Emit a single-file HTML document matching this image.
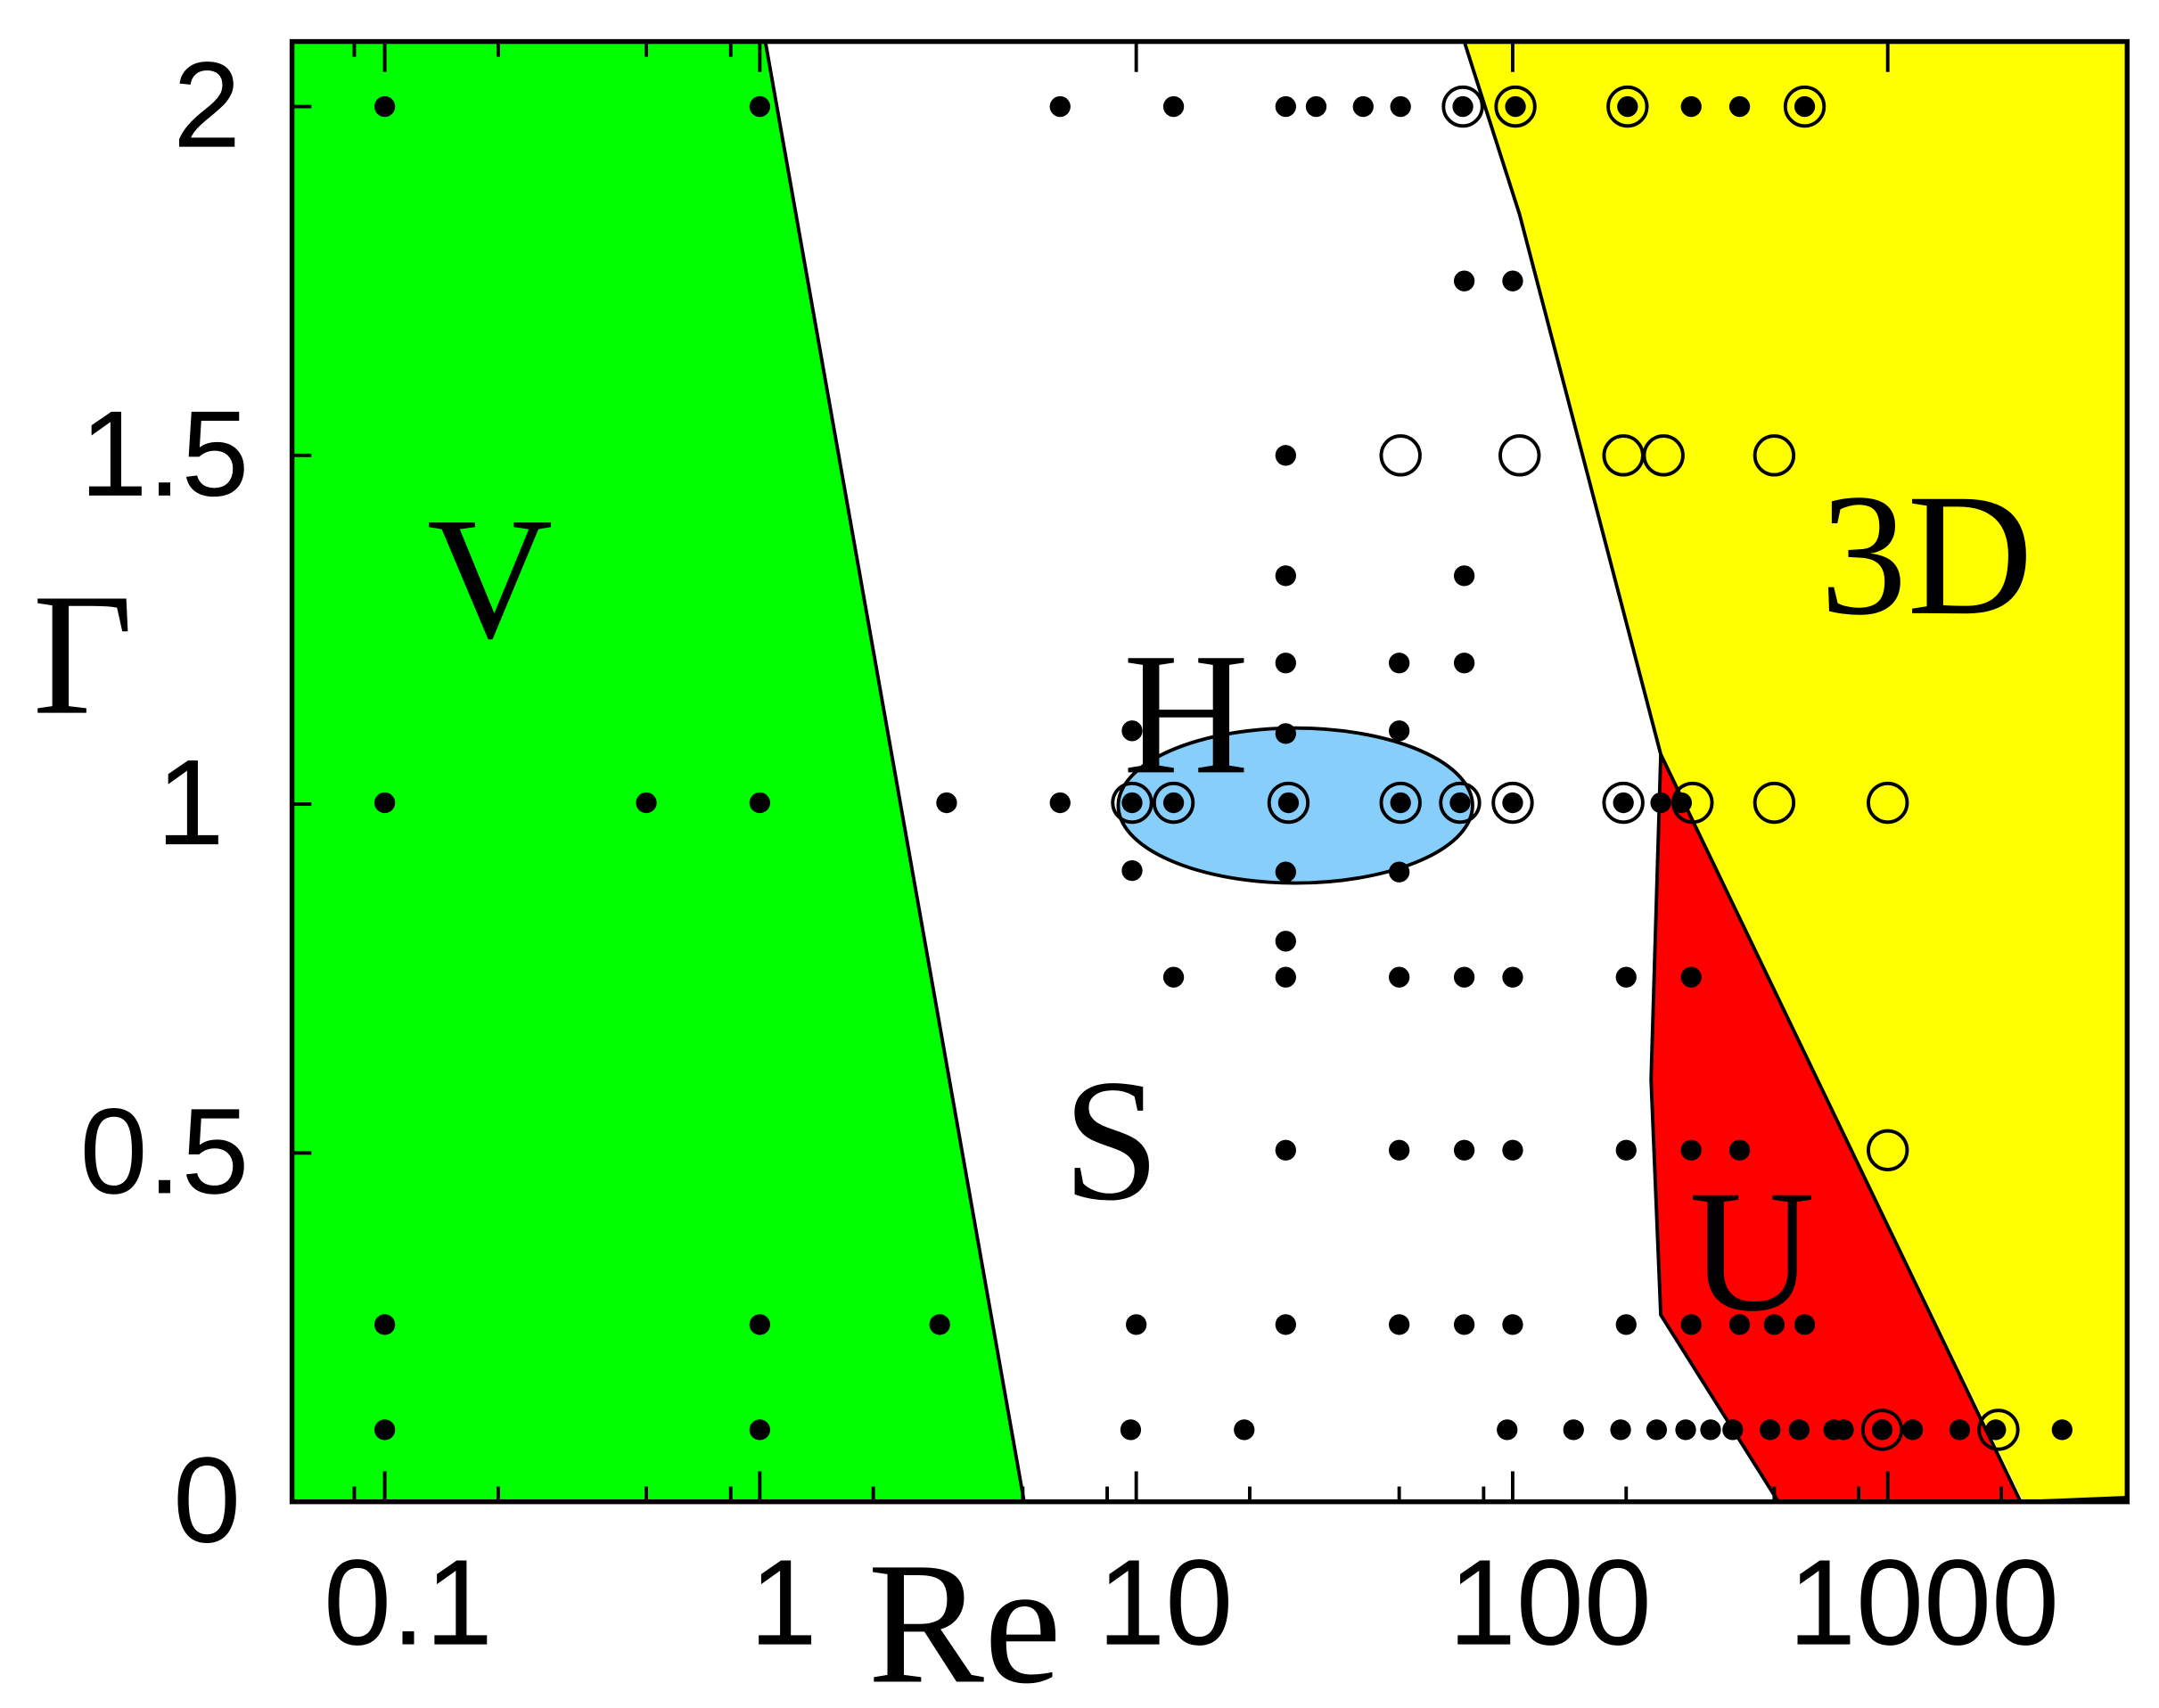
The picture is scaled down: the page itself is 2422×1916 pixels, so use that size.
<!DOCTYPE html>
<html><head><meta charset="utf-8"><style>html,body{margin:0;padding:0;background:#fff}svg{display:block}</style></head>
<body>
<svg width="2422" height="1916" viewBox="0 0 1560 1234" preserveAspectRatio="none" xmlns="http://www.w3.org/2000/svg">
<rect width="1560" height="1234" fill="#fff"/>
<polygon points="211,30 553,30 740,1085 211,1085" fill="#00ff00"/>
<polyline points="553,30 740,1085" fill="none" stroke="#000" stroke-width="2.5"/>
<polygon points="1058,30 1537,30 1537,1082 1462,1085 1200,545 1098,155" fill="#ffff00"/>
<polyline points="1058,30 1098,155 1200,545" fill="none" stroke="#000" stroke-width="2.5"/>
<polygon points="1200,545 1460,1085 1285,1085 1200,950 1193,780" fill="#ff0000" stroke="#000" stroke-width="2.5"/>
<line x1="1462" y1="1085" x2="1537" y2="1082" stroke="#000" stroke-width="2.5"/>
<ellipse cx="936" cy="582" rx="128" ry="56" fill="#87cefa" stroke="#000" stroke-width="2.5"/>
<rect x="211" y="30" width="1326" height="1055" fill="none" stroke="#000" stroke-width="3.5"/>
<g stroke="#000" stroke-width="2.5">
<line x1="211" y1="77" x2="225" y2="77"/><line x1="211" y1="329" x2="225" y2="329"/><line x1="211" y1="581" x2="225" y2="581"/><line x1="211" y1="833" x2="225" y2="833"/>
<line x1="278" y1="1085" x2="278" y2="1063"/><line x1="549" y1="1085" x2="549" y2="1063"/><line x1="821" y1="1085" x2="821" y2="1063"/><line x1="1093" y1="1085" x2="1093" y2="1063"/><line x1="1364" y1="1085" x2="1364" y2="1063"/>
<line x1="278" y1="30" x2="278" y2="52"/><line x1="549" y1="30" x2="549" y2="52"/><line x1="821" y1="30" x2="821" y2="52"/><line x1="1093" y1="30" x2="1093" y2="52"/><line x1="1364" y1="30" x2="1364" y2="52"/>
<line x1="256" y1="1085" x2="256" y2="1074"/><line x1="360" y1="1085" x2="360" y2="1074"/><line x1="467" y1="1085" x2="467" y2="1074"/><line x1="528" y1="1085" x2="528" y2="1074"/>
<line x1="631" y1="1085" x2="631" y2="1074"/><line x1="739" y1="1085" x2="739" y2="1074"/><line x1="800" y1="1085" x2="800" y2="1074"/>
<line x1="903" y1="1085" x2="903" y2="1074"/><line x1="1011" y1="1085" x2="1011" y2="1074"/><line x1="1072" y1="1085" x2="1072" y2="1074"/>
<line x1="1175" y1="1085" x2="1175" y2="1074"/><line x1="1282" y1="1085" x2="1282" y2="1074"/><line x1="1343" y1="1085" x2="1343" y2="1074"/>
<line x1="1446" y1="1085" x2="1446" y2="1074"/>
<line x1="256" y1="30" x2="256" y2="41"/><line x1="360" y1="30" x2="360" y2="41"/><line x1="467" y1="30" x2="467" y2="41"/><line x1="528" y1="30" x2="528" y2="41"/>
</g>
<g fill="#000">
<circle cx="278" cy="77" r="7.5"/><circle cx="549" cy="77" r="7.5"/><circle cx="766" cy="77" r="7.5"/><circle cx="848" cy="77" r="7.5"/><circle cx="929" cy="77" r="7.5"/><circle cx="951" cy="77" r="7.5"/><circle cx="985" cy="77" r="7.5"/><circle cx="1012" cy="77" r="7.5"/><circle cx="1057" cy="77" r="7.5"/><circle cx="1095" cy="77" r="7.5"/><circle cx="1176" cy="77" r="7.5"/><circle cx="1222" cy="77" r="7.5"/><circle cx="1257" cy="77" r="7.5"/><circle cx="1304" cy="77" r="7.5"/>
<circle cx="1058" cy="203" r="7.5"/><circle cx="1093" cy="203" r="7.5"/>
<circle cx="929" cy="329" r="7.5"/>
<circle cx="929" cy="416" r="7.5"/><circle cx="1058" cy="416" r="7.5"/>
<circle cx="929" cy="479" r="7.5"/><circle cx="1011" cy="479" r="7.5"/><circle cx="1058" cy="479" r="7.5"/>
<circle cx="818" cy="528" r="7.5"/><circle cx="929" cy="530" r="7.5"/><circle cx="1011" cy="528" r="7.5"/>
<circle cx="278" cy="580" r="7.5"/><circle cx="467" cy="580" r="7.5"/><circle cx="549" cy="580" r="7.5"/><circle cx="684" cy="580" r="7.5"/><circle cx="766" cy="580" r="7.5"/><circle cx="818" cy="580" r="7.5"/><circle cx="848" cy="580" r="7.5"/><circle cx="931" cy="580" r="7.5"/><circle cx="1012" cy="580" r="7.5"/><circle cx="1055" cy="580" r="7.5"/><circle cx="1093" cy="580" r="7.5"/><circle cx="1173" cy="580" r="7.5"/><circle cx="1200" cy="580" r="7.5"/><circle cx="1215" cy="580" r="7.5"/>
<circle cx="818" cy="629" r="7.5"/><circle cx="929" cy="630" r="7.5"/><circle cx="1011" cy="630" r="7.5"/>
<circle cx="929" cy="680" r="7.5"/>
<circle cx="848" cy="706" r="7.5"/><circle cx="929" cy="706" r="7.5"/><circle cx="1011" cy="706" r="7.5"/><circle cx="1058" cy="706" r="7.5"/><circle cx="1093" cy="706" r="7.5"/><circle cx="1175" cy="706" r="7.5"/><circle cx="1222" cy="706" r="7.5"/>
<circle cx="929" cy="831" r="7.5"/><circle cx="1011" cy="831" r="7.5"/><circle cx="1058" cy="831" r="7.5"/><circle cx="1093" cy="831" r="7.5"/><circle cx="1175" cy="831" r="7.5"/><circle cx="1222" cy="831" r="7.5"/><circle cx="1257" cy="831" r="7.5"/>
<circle cx="278" cy="957" r="7.5"/><circle cx="549" cy="957" r="7.5"/><circle cx="679" cy="957" r="7.5"/><circle cx="821" cy="957" r="7.5"/><circle cx="929" cy="957" r="7.5"/><circle cx="1011" cy="957" r="7.5"/><circle cx="1058" cy="957" r="7.5"/><circle cx="1093" cy="957" r="7.5"/><circle cx="1175" cy="957" r="7.5"/><circle cx="1222" cy="957" r="7.5"/><circle cx="1257" cy="957" r="7.5"/><circle cx="1282" cy="957" r="7.5"/><circle cx="1304" cy="957" r="7.5"/>
<circle cx="278" cy="1033" r="7.5"/><circle cx="549" cy="1033" r="7.5"/><circle cx="817" cy="1033" r="7.5"/><circle cx="899" cy="1033" r="7.5"/><circle cx="1089" cy="1033" r="7.5"/><circle cx="1137" cy="1033" r="7.5"/><circle cx="1171" cy="1033" r="7.5"/><circle cx="1197" cy="1033" r="7.5"/><circle cx="1218" cy="1033" r="7.5"/><circle cx="1236" cy="1033" r="7.5"/><circle cx="1252" cy="1033" r="7.5"/><circle cx="1279" cy="1033" r="7.5"/><circle cx="1300" cy="1033" r="7.5"/><circle cx="1325" cy="1033" r="7.5"/><circle cx="1332" cy="1033" r="7.5"/><circle cx="1360" cy="1033" r="7.5"/><circle cx="1382" cy="1033" r="7.5"/><circle cx="1416" cy="1033" r="7.5"/><circle cx="1442" cy="1033" r="7.5"/><circle cx="1490" cy="1033" r="7.5"/>
</g>
<g fill="none" stroke="#000" stroke-width="2.5">
<circle cx="1057" cy="77" r="14"/><circle cx="1095" cy="77" r="14"/><circle cx="1176" cy="77" r="14"/><circle cx="1304" cy="77" r="14"/>
<circle cx="1012" cy="329" r="14"/><circle cx="1098" cy="329" r="14"/><circle cx="1173" cy="329" r="14"/><circle cx="1202" cy="329" r="14"/><circle cx="1282" cy="329" r="14"/>
<circle cx="818" cy="580" r="14"/><circle cx="848" cy="580" r="14"/><circle cx="931" cy="580" r="14"/><circle cx="1012" cy="580" r="14"/><circle cx="1055" cy="580" r="14"/><circle cx="1093" cy="580" r="14"/><circle cx="1173" cy="580" r="14"/><circle cx="1223" cy="580" r="14"/><circle cx="1282" cy="580" r="14"/><circle cx="1364" cy="580" r="14"/>
<circle cx="1364" cy="831" r="14"/>
<circle cx="1360" cy="1033" r="14"/><circle cx="1444" cy="1033" r="14"/>
</g>
<g fill="#000" font-family="'Liberation Sans',sans-serif" font-size="88">
<text x="174" y="106" text-anchor="end">2</text>
<text x="180" y="358" text-anchor="end">1.5</text>
<text x="162" y="610" text-anchor="end">1</text>
<text x="180" y="862" text-anchor="end">0.5</text>
<text x="174" y="1114" text-anchor="end">0</text>
<text x="295" y="1188" text-anchor="middle">0.1</text>
<text x="566" y="1188" text-anchor="middle">1</text>
<text x="842" y="1188" text-anchor="middle">10</text>
<text x="1120" y="1188" text-anchor="middle">100</text>
<text x="1390" y="1188" text-anchor="middle">1000</text>
</g>
<g fill="#000" font-family="'Liberation Serif',serif" font-size="126">
<text x="354" y="460" text-anchor="middle">V</text>
<text x="1392" y="443" text-anchor="middle">3D</text>
<text x="857" y="558" text-anchor="middle">H</text>
<text x="803" y="866" text-anchor="middle">S</text>
<text x="1266" y="946" text-anchor="middle">U</text>
<text x="60" y="515" text-anchor="middle">Γ</text>
<text x="697" y="1215" text-anchor="middle">Re</text>
</g>
</svg>
</body></html>
